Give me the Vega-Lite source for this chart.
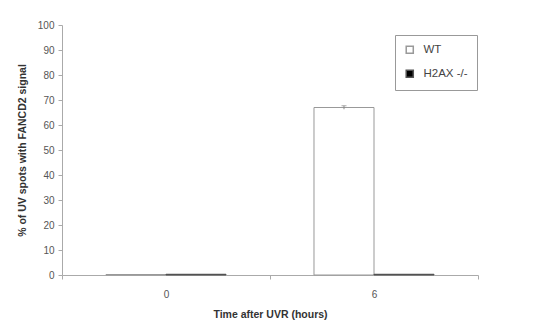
{
  "$schema": "https://vega.github.io/schema/vega-lite/v6.json",
  "width": 416,
  "height": 250,
  "autosize": {"type": "none"},
  "padding": {"left": 62, "top": 25, "right": 60, "bottom": 60},
  "background": "white",
  "config": {
    "view": {"stroke": null},
    "font": "Liberation Sans",
    "axis": {"domainColor": "#aaaaaa", "tickColor": "#aaaaaa", "labelColor": "#555555", "titleColor": "#333333", "labelFontSize": 10, "titleFontSize": 10.5, "titleFontWeight": "bold", "grid": false}
  },
  "data": {"values": [
    {"time": "0", "series": "WT", "value": 0.2},
    {"time": "0", "series": "H2AX -/-", "value": 0.3},
    {"time": "6", "series": "WT", "value": 67, "lo": 66.3, "hi": 67.7},
    {"time": "6", "series": "H2AX -/-", "value": 0.3}
  ]},
  "encoding": {
    "x": {"field": "time", "type": "nominal", "sort": ["0", "6"],
      "scale": {"paddingInner": 0, "paddingOuter": 0},
      "axis": {"title": "Time after UVR (hours)", "labelAngle": 0, "tickBand": "extent", "labelPadding": 10, "titlePadding": 10, "tickSize": 4}},
    "xOffset": {"field": "series", "type": "nominal", "sort": ["WT", "H2AX -/-"],
      "scale": {"paddingInner": 0, "paddingOuter": 0.733}}
  },
  "layer": [
    {
      "mark": {"type": "bar", "strokeWidth": 1},
      "encoding": {
        "y": {"field": "value", "type": "quantitative", "scale": {"domain": [0, 100]},
          "axis": {"title": "% of UV spots with FANCD2 signal", "values": [0,10,20,30,40,50,60,70,80,90,100], "tickSize": 4, "labelPadding": 4, "titlePadding": 10}},
        "stroke": {"field": "series", "type": "nominal", "scale": {"domain": ["WT", "H2AX -/-"], "range": ["#999999", "#555555"]}, "legend": null},
        "fill": {"field": "series", "type": "nominal", "sort": ["WT", "H2AX -/-"],
          "scale": {"domain": ["WT", "H2AX -/-"], "range": ["white", "black"]},
          "legend": {"title": null, "orient": "none", "legendX": 333, "legendY": 10, "strokeColor": "#999999", "padding": 9, "symbolType": "square", "symbolStrokeColor": "#999999", "symbolSize": 50, "labelFontSize": 11.5, "labelColor": "#444444", "rowPadding": 10, "labelOffset": 8}}
      }
    },
    {
      "transform": [{"filter": "datum.lo != null"}],
      "mark": {"type": "rule", "color": "#888888"},
      "encoding": {
        "y": {"field": "lo", "type": "quantitative", "axis": {"title": "% of UV spots with FANCD2 signal", "values": [0,10,20,30,40,50,60,70,80,90,100], "tickSize": 4, "labelPadding": 4, "titlePadding": 10}},
        "y2": {"field": "hi"}
      }
    },
    {
      "transform": [{"filter": "datum.hi != null"}],
      "mark": {"type": "tick", "color": "#888888", "size": 5, "thickness": 1},
      "encoding": {"y": {"field": "hi", "type": "quantitative", "axis": {"title": "% of UV spots with FANCD2 signal", "values": [0,10,20,30,40,50,60,70,80,90,100], "tickSize": 4, "labelPadding": 4, "titlePadding": 10}}}
    }
  ]
}
